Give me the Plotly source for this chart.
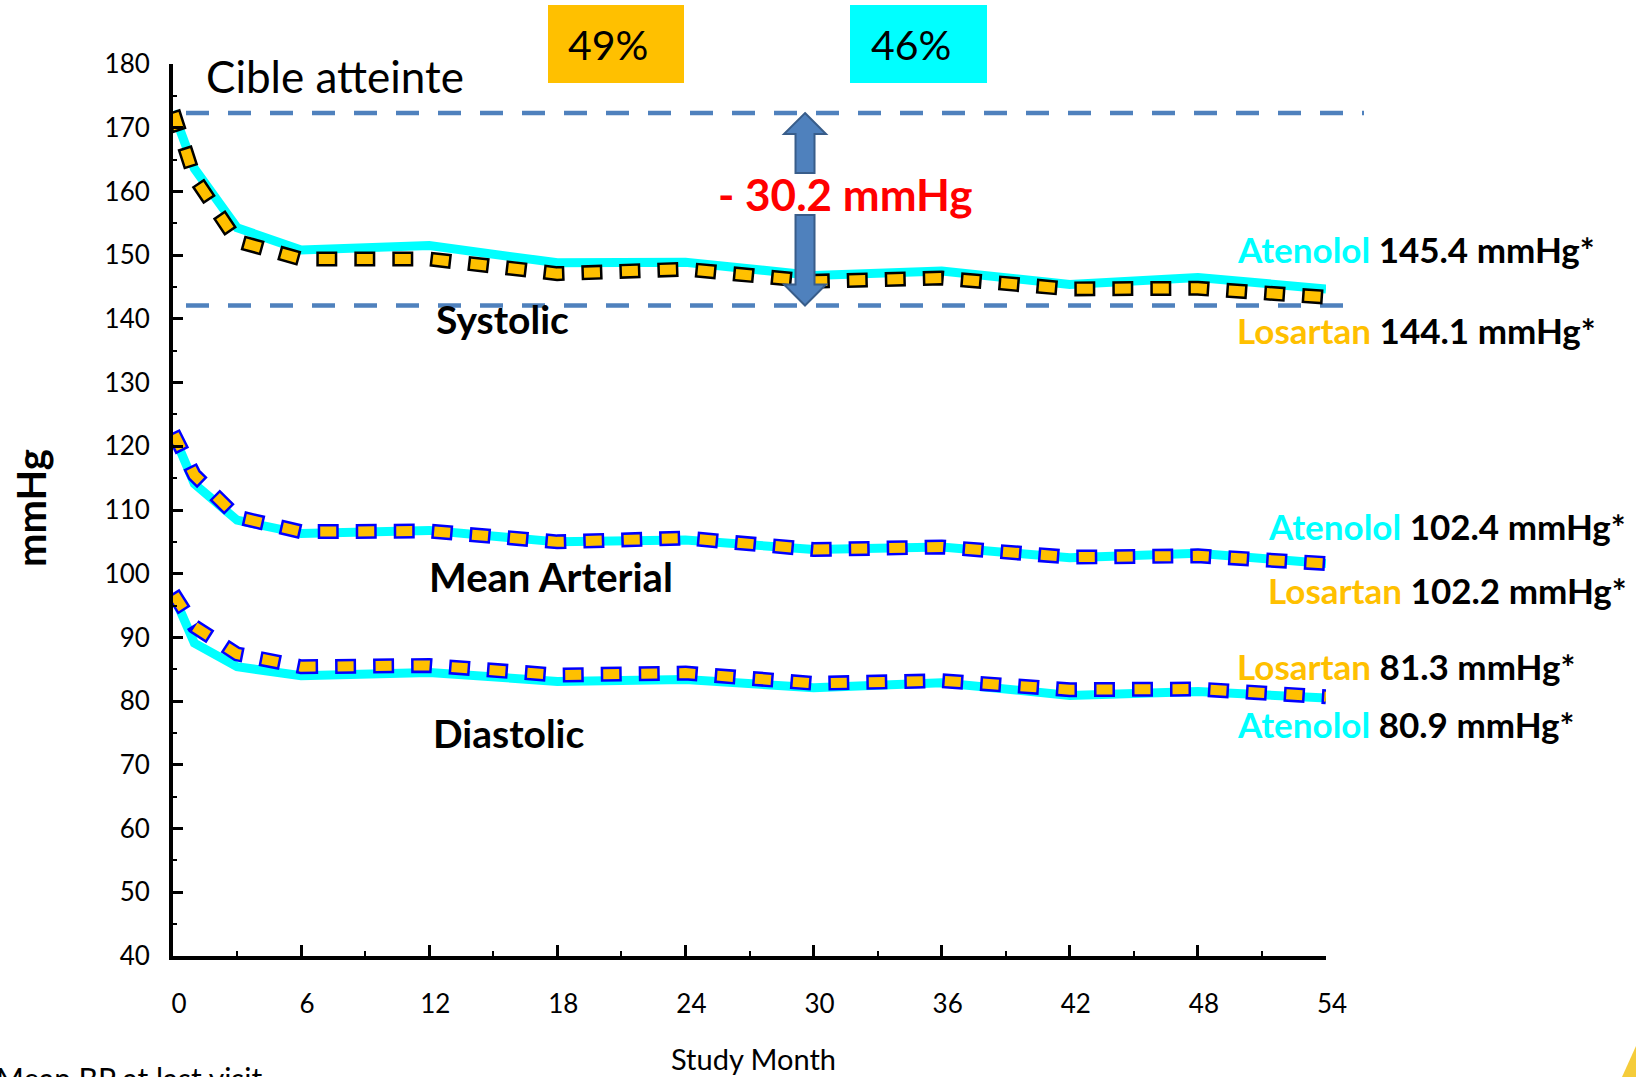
import plotly.graph_objects as go

# Study visits (months) and mean blood pressure per arm (mmHg)
months = [0, 1, 3, 6, 12, 18, 24, 30, 36, 42, 48, 54]
sbp_losartan = [172.6, 162.2, 152.2, 149.4, 149.4, 147.1, 147.8, 145.9, 146.4, 144.7, 144.8, 143.4]
sbp_atenolol = [172.6, 163.6, 154.3, 150.8, 151.5, 148.8, 148.9, 146.8, 147.5, 145.4, 146.5, 144.7]
map_losartan = [122.2, 115.5, 108.9, 106.6, 106.7, 105.0, 105.6, 103.8, 104.2, 102.6, 102.8, 101.6]
map_atenolol = [122.0, 114.1, 108.4, 106.3, 106.8, 105.0, 105.3, 103.8, 104.2, 102.5, 103.2, 101.6]
dbp_losartan = [97.0, 91.7, 87.4, 85.4, 85.6, 84.1, 84.4, 82.8, 83.2, 81.8, 81.9, 80.7]
dbp_atenolol = [96.8, 89.1, 85.4, 84.0, 84.5, 83.1, 83.4, 82.1, 82.9, 80.9, 81.5, 80.5]

# Mean BP at last visit
last_sbp = {"Atenolol": 145.4, "Losartan": 144.1}
last_map = {"Atenolol": 102.4, "Losartan": 102.2}
last_dbp = {"Atenolol": 80.9, "Losartan": 81.3}

# Share of patients reaching target
target_pct = {"Losartan": 49, "Atenolol": 46}

# Systolic reference levels (baseline and reduction)
sbp_baseline = 172.3
sbp_drop = 30.2

x_ticks = list(range(0, 55, 6))
y_ticks = list(range(40, 181, 10))

CYAN = "#00FFFF"
GOLD = "#FFC000"
DASH_BLUE = "#4F81BD"
FONT = "Lato"

W, H = 1636, 1077
L, R, T, B = 173, 310, 64, 121
PW, PH = W - L - R, H - T - B
Y0, Y1 = 40, 180
X0, X1 = 0, 54


def px_x(px):
    return (px - L) / PW


def px_y(py):
    return (H - B - py) / PH


def data_y(v):
    return (v - Y0) / (Y1 - Y0)


def data_x(m):
    return (m - X0) / (X1 - X0)


fig = go.Figure()


def add_atenolol(y):
    fig.add_trace(go.Scatter(x=months, y=y, mode="lines",
                             line=dict(color=CYAN, width=9), hoverinfo="skip"))


def add_losartan(y, edge):
    # square-dot line with a coloured border: wide edge dashes under narrower inset fill dashes
    fig.add_trace(go.Scatter(x=months, y=y, mode="lines",
                             line=dict(color=edge, width=15, dash="21px,17px"), hoverinfo="skip"))
    fig.add_trace(go.Scatter(x=months, y=y, mode="lines",
                             line=dict(color=GOLD, width=10, dash="0px,2.5px,16px,19.5px"), hoverinfo="skip"))


add_atenolol(sbp_atenolol)
add_losartan(sbp_losartan, "#000000")
add_atenolol(map_atenolol)
add_losartan(map_losartan, "#0000FF")
add_atenolol(dbp_atenolol)
add_losartan(dbp_losartan, "#0000FF")

shapes = []

# dashed systolic reference lines
sbp_target = sbp_baseline - sbp_drop
for level, x_end in ((sbp_baseline, 1364), (sbp_target, 1343)):
    shapes.append(dict(type="line", xref="paper", yref="paper",
                       x0=px_x(186), x1=px_x(x_end), y0=data_y(level), y1=data_y(level),
                       line=dict(color=DASH_BLUE, width=4.5, dash="23px,19px"), layer="below"))

# double block arrow between the two levels, split around the label
arrow_m = 29.6
cx = data_x(arrow_m)
sw = 9.5 / PW
hw = 21 / PW
hl = 21 / PH
top = data_y(sbp_baseline)
bot = data_y(sbp_target)
up_end = px_y(173)
dn_start = px_y(215)
up_path = (f"M {cx} {top} L {cx + hw} {top - hl} L {cx + sw} {top - hl} L {cx + sw} {up_end} "
           f"L {cx - sw} {up_end} L {cx - sw} {top - hl} L {cx - hw} {top - hl} Z")
dn_path = (f"M {cx} {bot} L {cx + hw} {bot + hl} L {cx + sw} {bot + hl} L {cx + sw} {dn_start} "
           f"L {cx - sw} {dn_start} L {cx - sw} {bot + hl} L {cx - hw} {bot + hl} Z")
for p in (up_path, dn_path):
    shapes.append(dict(type="path", xref="paper", yref="paper", path=p,
                       fillcolor=DASH_BLUE, line=dict(color="#385D8A", width=2)))

# target-reached boxes
for (x0, x1), color in (((548, 684), GOLD), ((850, 987), CYAN)):
    shapes.append(dict(type="rect", xref="paper", yref="paper",
                       x0=px_x(x0), x1=px_x(x1), y0=px_y(83), y1=px_y(5),
                       fillcolor=color, line=dict(width=0)))

# small yellow corner ornament
shapes.append(dict(type="path", xref="paper", yref="paper",
                   path=f"M {px_x(1622)} {px_y(1077)} L {px_x(1636)} {px_y(1046)} L {px_x(1636)} {px_y(1077)} Z",
                   fillcolor="#F5CC3A", line=dict(width=0)))

annotations = []


def text(s, x, y, size, bold=False, color="black", xanchor="center", yanchor="middle", angle=0):
    if bold:
        s = f"<b>{s}</b>"
    annotations.append(dict(text=s, xref="paper", yref="paper", x=px_x(x), y=px_y(y),
                            xanchor=xanchor, yanchor=yanchor, showarrow=False, textangle=angle,
                            font=dict(family=FONT, size=size, color=color)))


text("Cible atteinte", 204, 76, 44, xanchor="left")
text(f"{target_pct['Losartan']}%", 608, 45, 41)
text(f"{target_pct['Atenolol']}%", 911, 45, 41)
text(f"- {sbp_drop} mmHg", 845, 194, 44, bold=True, color="#FF0000")

text("Systolic", 502, 319, 39, bold=True)
text("Mean Arterial", 551, 577, 40, bold=True)
text("Diastolic", 509, 733, 39, bold=True)


def arm_label(arm, value, x, y):
    color = CYAN if arm == "Atenolol" else GOLD
    s = f"<span style='color:{color}'>{arm}</span> {value} mmHg*"
    text(s, x, y, 35, bold=True, xanchor="left")


arm_label("Atenolol", last_sbp["Atenolol"], 1235, 249)
arm_label("Losartan", last_sbp["Losartan"], 1235, 330)
arm_label("Atenolol", last_map["Atenolol"], 1266, 526)
arm_label("Losartan", last_map["Losartan"], 1266, 590)
arm_label("Losartan", last_dbp["Losartan"], 1235, 666)
arm_label("Atenolol", last_dbp["Atenolol"], 1235, 724)

text("mmHg", 31, 508, 40, bold=True, angle=-90)
text("Study Month", 753, 1058, 29)
text("Mean BP at last visit", -6, 1078, 30, xanchor="left")

fig.update_layout(
    width=W, height=H,
    margin=dict(l=L, r=R, t=T, b=B),
    paper_bgcolor="white", plot_bgcolor="white",
    showlegend=False,
    shapes=shapes,
    annotations=annotations,
    font=dict(family=FONT, color="black"),
)

fig.update_xaxes(
    range=[X0, X1], tickvals=x_ticks, ticktext=[str(v) for v in x_ticks],
    showline=True, linecolor="black", linewidth=4,
    ticks="inside", ticklen=11, tickwidth=3, tickcolor="black",
    minor=dict(ticks="inside", dtick=3, ticklen=5, tickwidth=2, tickcolor="black", showgrid=False),
    showgrid=False, zeroline=False,
    tickfont=dict(family=FONT, size=26, color="black"),
    ticklabelstandoff=22, ticklabelshift=6,
)
fig.update_yaxes(
    range=[Y0, Y1], tickvals=y_ticks, ticktext=[str(v) for v in y_ticks],
    showline=True, linecolor="black", linewidth=4,
    ticks="inside", ticklen=10, tickwidth=3, tickcolor="black",
    minor=dict(ticks="inside", dtick=5, ticklen=4, tickwidth=2, tickcolor="black", showgrid=False),
    showgrid=False, zeroline=False,
    tickfont=dict(family=FONT, size=26, color="black"),
    ticklabelstandoff=14,
)

fig.write_html("out.html")
